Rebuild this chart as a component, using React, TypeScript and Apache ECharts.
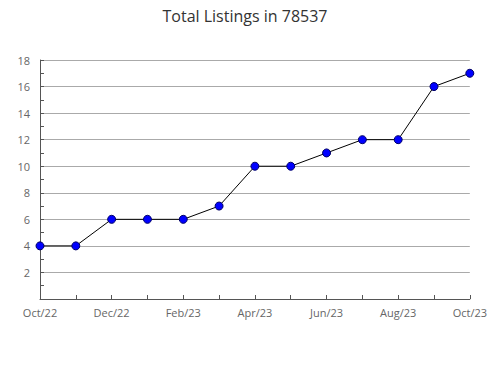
import React, { useEffect, useRef } from "react";
import * as echarts from "echarts";

const categories = ["Oct/22", "Nov/22", "Dec/22", "Jan/23", "Feb/23", "Mar/23", "Apr/23", "May/23", "Jun/23", "Jul/23", "Aug/23", "Sep/23", "Oct/23"];
const listings = [4, 4, 6, 6, 6, 7, 10, 10, 11, 12, 12, 16, 17];

export default function App() {
  const ref = useRef<HTMLDivElement>(null);
  useEffect(() => {
    const chart = echarts.init(ref.current!, undefined, { renderer: "svg" });
    chart.setOption({
      animation: false,
      title: {
        text: "Total Listings in 78537",
        left: "center",
        top: 3,
        textStyle: { fontFamily: "Open Sans", fontWeight: "normal", fontSize: 16, color: "#333" },
      },
      grid: { left: 40, right: 19, top: 60, bottom: 81 },
      xAxis: {
        type: "category",
        data: categories,
        boundaryGap: false,
        axisLine: { lineStyle: { color: "#555" } },
        axisTick: { show: true, inside: true, interval: 0, length: 4, lineStyle: { color: "#555" } },
        axisLabel: { interval: 1, color: "#666", fontFamily: "Open Sans", fontSize: 11, margin: 8 },
        splitLine: { show: false },
      },
      yAxis: {
        type: "value",
        min: 0,
        max: 18,
        interval: 2,
        axisLine: { show: true, lineStyle: { color: "#555" } },
        axisTick: { show: true, inside: true, length: 4, lineStyle: { color: "#555" } },
        minorTick: { show: true, splitNumber: 2, length: 4, lineStyle: { color: "#555" } },
        axisLabel: {
          color: "#666",
          fontFamily: "Open Sans",
          fontSize: 11,
          margin: 10,
          formatter: (v: number) => (v === 0 ? "" : String(v)),
        },
        splitLine: { show: true, lineStyle: { color: "#aaa", width: 1 } },
      },
      series: [
        {
          type: "line",
          data: listings,
          symbol: "circle",
          symbolSize: 8,
          lineStyle: { color: "#000", width: 1 },
          itemStyle: { color: "#0000ff", borderColor: "#000066", borderWidth: 1 },
        },
      ],
    });
    return () => chart.dispose();
  }, []);
  return <div ref={ref} style={{ width: 490, height: 380, position: "absolute", left: 0, top: 0 }} />;
}
